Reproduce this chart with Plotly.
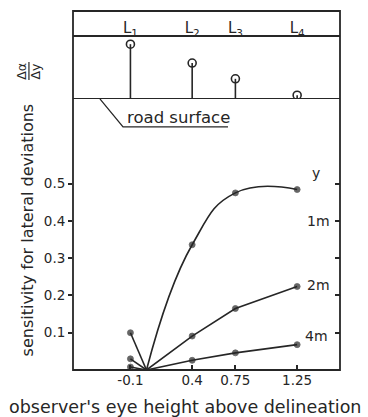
import plotly.graph_objects as go

# observer eye height above delineation (x) and sensitivity Δα/Δy (y)
x_left = -0.1
x_zero = 0.03
eye_heights = [0.4, 0.75, 1.25]

y_1m = [0.336, 0.475, 0.484]
y_2m = [0.091, 0.165, 0.224]
y_4m = [0.026, 0.046, 0.068]
left_vals = {"1m": 0.1, "2m": 0.03, "4m": 0.008}

# top sketch: delineator posts L1..L4 (relative heights above road surface)
post_names = ["L<sub>1</sub>", "L<sub>2</sub>", "L<sub>3</sub>", "L<sub>4</sub>"]
post_x = [-0.1, 0.4, 0.75, 1.25]
post_h = [0.87, 0.57, 0.32, 0.06]

x_ticks = [-0.1, 0.4, 0.75, 1.25]
x_ticktext = ["-0.1", "0.4", "0.75", "1.25"]
y_ticks = [0.1, 0.2, 0.3, 0.4, 0.5]
y_ticktext = ["0.1", "0.2", "0.3", "0.4", "0.5"]

INK = "#262626"
FONT = "DejaVu Sans"

fig = go.Figure()

dot = dict(color=INK, line=dict(color=INK, width=0.8))
series = [("1m", y_1m, "spline"), ("2m", y_2m, "linear"), ("4m", y_4m, "linear")]
for name, vals, shape in series:
    # short branch from the -0.1 point down to the zero crossing
    fig.add_trace(go.Scatter(
        x=[x_left, x_zero], y=[left_vals[name], 0], mode="lines+markers",
        line=dict(color=INK, width=1.6), marker=dict(size=[6, 0], **dot),
        showlegend=False, hoverinfo="skip"))
    fig.add_trace(go.Scatter(
        x=[x_zero] + eye_heights, y=[0] + vals, mode="lines+markers",
        line=dict(color=INK, width=1.6, shape=shape, smoothing=1.3),
        marker=dict(size=[0, 6, 6, 6], **dot),
        showlegend=False, hoverinfo="skip"))

# post stems in the top sketch
for px, ph in zip(post_x, post_h):
    fig.add_trace(go.Scatter(
        x=[px, px], y=[0, ph], mode="lines", yaxis="y2",
        line=dict(color=INK, width=1.6), showlegend=False, hoverinfo="skip"))
fig.add_trace(go.Scatter(
    x=post_x, y=post_h, mode="markers", yaxis="y2",
    marker=dict(size=8, symbol="circle-open", color=INK, line=dict(width=1.6)),
    showlegend=False, hoverinfo="skip"))
fig.add_trace(go.Scatter(
    x=post_x, y=[1.1] * 4, mode="text", yaxis="y2", text=post_names,
    textfont=dict(family=FONT, size=15, color=INK),
    showlegend=False, hoverinfo="skip"))

# invisible trace for the right-hand tick axis
fig.add_trace(go.Scatter(x=[0], y=[0], yaxis="y3", mode="markers",
                         marker=dict(opacity=0), showlegend=False, hoverinfo="skip"))

XR = [-0.565, 1.597]
YR = [0, 0.727]
Y_SPLIT = 0.755

fig.update_layout(
    width=368, height=417,
    margin=dict(l=73, r=28, t=11, b=47),
    paper_bgcolor="white", plot_bgcolor="white",
    font=dict(family=FONT, color=INK, size=13),
    xaxis=dict(range=XR, tickvals=x_ticks, ticktext=x_ticktext, ticks="inside",
               ticklen=5, tickwidth=1.5, tickcolor=INK, showgrid=False,
               zeroline=False, showline=False, tickfont=dict(size=13.5)),
    yaxis=dict(range=YR, domain=[0, Y_SPLIT], tickvals=y_ticks, ticktext=y_ticktext,
               ticks="outside", ticklen=4, tickwidth=1.5, tickcolor=INK,
               showgrid=False, zeroline=False, showline=False, tickfont=dict(size=13.5)),
    yaxis2=dict(range=[0, 1.397], domain=[Y_SPLIT, 1], visible=False, anchor="x"),
    yaxis3=dict(range=YR, overlaying="y", side="right", tickvals=y_ticks,
                ticks="inside", ticklen=5, tickwidth=1.5, tickcolor=INK,
                showticklabels=False, showgrid=False, zeroline=False, showline=False),
)

frame = dict(color=INK, width=1.8)
shapes = [
    dict(type="rect", xref="paper", yref="paper", x0=0, y0=0, x1=1, y1=1, line=frame),
    dict(type="line", xref="paper", yref="y2", x0=0, x1=1, y0=1, y1=1, line=frame),
    dict(type="line", xref="paper", yref="y2", x0=0, x1=1, y0=0, y1=0, line=frame),
    # leader to the "road surface" label
    dict(type="path", xref="x", yref="y", path="M -0.347 0.727 L -0.16 0.652 L 0.69 0.652",
         line=dict(color=INK, width=1.3)),
    # fraction bar of Δα/Δy
    dict(type="line", xref="paper", yref="paper", x0=-0.165, x1=-0.165, y0=0.808, y1=0.858,
         line=dict(color=INK, width=1.2)),
]
fig.update_layout(shapes=shapes)


def note(x, y, text, size, xref="paper", yref="paper", angle=0):
    return dict(x=x, y=y, xref=xref, yref=yref, text=text, textangle=angle,
                xanchor="center", yanchor="middle", showarrow=False,
                font=dict(size=size))


ann = [
    note(0.29, 0.678, "road surface", 16.5, "x", "y"),
    note(1.40, 0.529, "y", 14, "x", "y"),
    note(1.42, 0.40, "1m", 14, "x", "y"),
    note(1.42, 0.228, "2m", 14, "x", "y"),
    note(1.41, 0.091, "4m", 14, "x", "y"),
    note(0.419, -0.103, "observer's eye height above delineation", 17.5),
    note(-0.172, 0.389, "sensitivity for lateral deviations", 16, angle=-90),
    note(-0.192, 0.833, "Δα", 12.5, angle=-90),
    note(-0.140, 0.833, "Δy", 12.5, angle=-90),
]
fig.update_layout(annotations=ann)

fig.write_html("out.html")
